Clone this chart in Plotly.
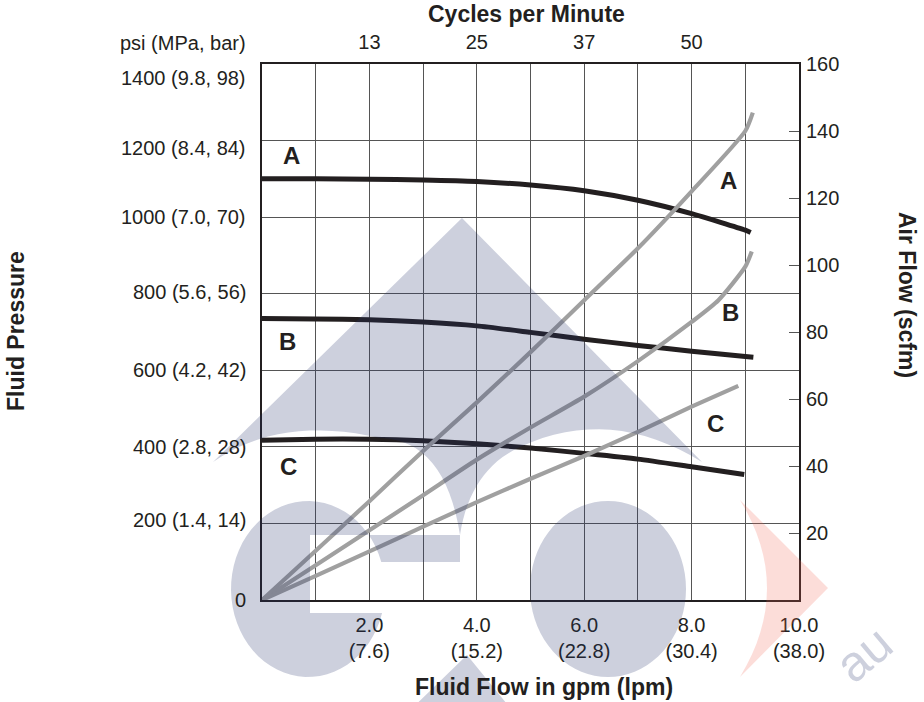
import math
import plotly.graph_objects as go

# ---------------- data ----------------
flow_A_press = [0, 1, 2, 3, 4, 5, 6, 7, 8, 9, 9.1]
pressure_A = [1100, 1100, 1099, 1097, 1093, 1084, 1069, 1044, 1009, 966, 960]
flow_B_press = [0, 1, 2, 3, 4, 5, 6, 7, 8, 9, 9.15]
pressure_B = [735, 734, 732, 726, 716, 699, 681, 665, 650, 636, 634]
flow_C_press = [0, 1, 2, 3, 4, 5, 6, 7, 8, 8.98]
pressure_C = [417, 420, 420, 416, 408, 397, 383, 368, 348, 328]

flow_A_air = [0, 1, 2, 3, 4, 5, 6, 7, 8, 9, 9.14]
air_A = [0, 14.7, 29.5, 44.5, 59, 74, 89.5, 105, 122, 140, 145.5]
flow_B_air = [0, 1, 2, 3, 4, 5, 6, 7, 8, 8.5, 9, 9.12]
air_B = [0, 10.4, 20.8, 31.3, 41.9, 51.5, 60.7, 71.3, 83, 89.5, 99.5, 104]
flow_C_air = [0, 1, 2, 3, 4, 5, 6, 7, 8, 8.87]
air_C = [0, 7.2, 14.5, 21.9, 29.2, 36.2, 43, 50.2, 57.7, 63.9]

flow_ticks = [1, 2, 3, 4, 5, 6, 7, 8, 9, 10]
flow_tick_text = ["", "2.0<br>(7.6)", "", "4.0<br>(15.2)", "", "6.0<br>(22.8)",
                  "", "8.0<br>(30.4)", "", "10.0<br>(38.0)"]
cycle_ticks = [2, 4, 6, 8]
cycle_text = ["13", "25", "37", "50"]
pressure_ticks = [0, 200, 400, 600, 800, 1000, 1200, 1400]
pressure_text = ["0", "200 (1.4, 14)", "400 (2.8, 28)", "600 (4.2, 42)", "800 (5.6, 56)",
                 "1000 (7.0, 70)", "1200 (8.4, 84)", "1400 (9.8, 98)"]
pressure_label_shift = [0, 3, 0, 0, 2, 0, -7, -14]
air_ticks = [20, 40, 60, 80, 100, 120, 140, 160]

curve_names = ["A", "B", "C"]
left_label_pos = [(0.54, 1162), (0.47, 676), (0.50, 350)]
right_label_pos = [(8.68, 1097), (8.72, 752), (8.45, 460)]

# ---------------- styling ----------------
FONT = "Liberation Sans, Arial, Helvetica, sans-serif"
INK = "#231f20"
GRAY = "#a0a0a0"
W, H = 924, 702
L, R, T, B = 262, 799, 64, 600
WM = "rgba(40,50,110,0.23)"
PINK = "rgba(240,100,80,0.22)"


def px(x):
    return (x - L) / (R - L)


def py(y):
    return (B - y) / (B - T)


fig = go.Figure()

for fx, fy in [(flow_A_air, air_A), (flow_B_air, air_B), (flow_C_air, air_C)]:
    fig.add_trace(go.Scatter(x=fx, y=fy, xaxis="x2", yaxis="y2", mode="lines",
                             line=dict(color=GRAY, width=4.2, shape="spline", smoothing=0.6),
                             hoverinfo="skip", showlegend=False))

for fx, fy in [(flow_A_press, pressure_A), (flow_B_press, pressure_B), (flow_C_press, pressure_C)]:
    fig.add_trace(go.Scatter(x=fx, y=fy, mode="lines",
                             line=dict(color=INK, width=5, shape="spline", smoothing=0.6),
                             hoverinfo="skip", showlegend=False))

annotations = []
for v, t, s in zip(pressure_ticks, pressure_text, pressure_label_shift):
    annotations.append(dict(x=0, xref="paper", y=v, yref="y", text=t, showarrow=False,
                            xanchor="right", yanchor="middle", xshift=-14, yshift=s,
                            font=dict(size=20, color=INK, family=FONT)))
for name, (lx, ly) in zip(curve_names, left_label_pos):
    annotations.append(dict(x=lx, y=ly, xref="x", yref="y", text="<b>%s</b>" % name,
                            showarrow=False, font=dict(size=24, color=INK, family=FONT)))
for name, (lx, ly) in zip(curve_names, right_label_pos):
    annotations.append(dict(x=lx, y=ly, xref="x", yref="y", text="<b>%s</b>" % name,
                            showarrow=False, font=dict(size=24, color=INK, family=FONT)))

titles = [
    ("<b>Cycles per Minute</b>", 526, 14, 0),
    ("<b>Fluid Flow in gpm (lpm)</b>", 544, 687, 0),
    ("<b>Fluid Pressure</b>", 16, 331, -90),
    ("<b>Air Flow (scfm)</b>", 907, 295, 90),
]
for t, x, y, a in titles:
    annotations.append(dict(x=px(x), y=py(y), xref="paper", yref="paper", text=t,
                            showarrow=False, textangle=a, xanchor="center", yanchor="middle",
                            font=dict(size=23, color=INK, family=FONT)))
annotations.append(dict(x=px(248), y=py(43), xref="paper", yref="paper", text="psi (MPa, bar)",
                        showarrow=False, xanchor="right", yanchor="middle",
                        font=dict(size=20, color=INK, family=FONT)))
# watermark text
annotations.append(dict(x=px(864), y=py(654), xref="paper", yref="paper", text="au",
                        showarrow=False, textangle=-40, xanchor="center", yanchor="middle",
                        font=dict(size=50, color=WM, family=FONT)))


# ---------------- watermark shapes (decoration) ----------------
def oriented(points):
    area = 0.0
    for (x1, y1), (x2, y2) in zip(points, points[1:] + points[:1]):
        area += x1 * y2 - x2 * y1
    return points if area > 0 else points[::-1]


def subpath(points):
    points = oriented(points)
    return "M " + " L ".join("%.4f,%.4f" % (px(a), py(b)) for a, b in points) + " Z"


def quad(p0, c, p1, n=16):
    return [((1 - t) ** 2 * p0[0] + 2 * (1 - t) * t * c[0] + t ** 2 * p1[0],
             (1 - t) ** 2 * p0[1] + 2 * (1 - t) * t * c[1] + t ** 2 * p1[1])
            for t in [i / n for i in range(1, n + 1)]]


# "G" like ellipse with notch
cx, cy, rx, ry = 308, 589, 77, 88
g_pts = [(310, 562)]
start = math.asin((cy - 562) / ry)
end = 2 * math.pi - math.asin((613 - cy) / ry)
for i in range(61):
    th = start + (end - start) * i / 60
    g_pts.append((cx + rx * math.cos(th), cy - ry * math.sin(th)))
g_pts.append((310, 613))

# "o" ellipse
o_pts = [(608 + 78 * math.cos(2 * math.pi * i / 72), 589 - 88 * math.sin(2 * math.pi * i / 72))
         for i in range(72)]

# scalloped triangle
tri = [(213, 462), (462, 218), (702, 462)]
tri += quad((702, 462), (610, 405), (520, 447))
tri += quad((520, 447), (470, 470), (460, 535))
tri += quad((460, 535), (445, 440), (380, 438))
tri += quad((380, 438), (280, 415), (213, 462))[:-1]

bar = [(310, 535), (460, 535), (460, 562), (310, 562)]
bottom_tri = [(400, 720), (467, 655), (520, 720)]

pink = [(740, 500), (828, 588), (740, 677)] + quad((740, 677), (794, 588), (740, 500))[:-1]

lavender_path = " ".join(subpath(p) for p in [tri, bar, g_pts, o_pts, bottom_tri])
shapes = [
    dict(type="path", path=lavender_path, xref="paper", yref="paper",
         fillcolor=WM, line=dict(width=0), layer="above"),
    dict(type="path", path=subpath(pink), xref="paper", yref="paper",
         fillcolor=PINK, line=dict(width=0), layer="above"),
]

axis_font = dict(size=20, color=INK, family=FONT)
fig.update_layout(
    width=W, height=H,
    margin=dict(l=L, r=W - R, t=T, b=H - B, pad=0),
    paper_bgcolor="white", plot_bgcolor="white",
    showlegend=False,
    xaxis=dict(range=[0, 10], tickvals=flow_ticks, ticktext=flow_tick_text,
               showgrid=True, gridcolor="#555555", gridwidth=1.2, zeroline=False,
               showline=True, linecolor=INK, linewidth=2.2, mirror=True,
               ticks="", tickfont=axis_font, ticklabelstandoff=6),
    yaxis=dict(range=[0, 1400], tickvals=pressure_ticks, showticklabels=False,
               showgrid=True, gridcolor="#555555", gridwidth=1.2, zeroline=False,
               showline=True, linecolor=INK, linewidth=2.2, mirror=True, ticks=""),
    xaxis2=dict(range=[0, 10], overlaying="x", side="top", anchor="y2",
                tickvals=cycle_ticks, ticktext=cycle_text, showgrid=False, zeroline=False,
                showline=False, ticks="", tickfont=axis_font, ticklabelstandoff=10),
    yaxis2=dict(range=[0, 160], overlaying="y", side="right", anchor="x2",
                tickvals=air_ticks, showgrid=False, zeroline=False, showline=False,
                ticks="inside", ticklen=10, tickwidth=1.2, tickcolor="#555555",
                tickfont=axis_font, ticklabelstandoff=6),
    annotations=annotations,
    shapes=shapes,
)

fig.write_html("out.html", config={"displayModeBar": False},
               post_script="document.body.style.margin='0px';document.body.style.overflow='hidden';")
